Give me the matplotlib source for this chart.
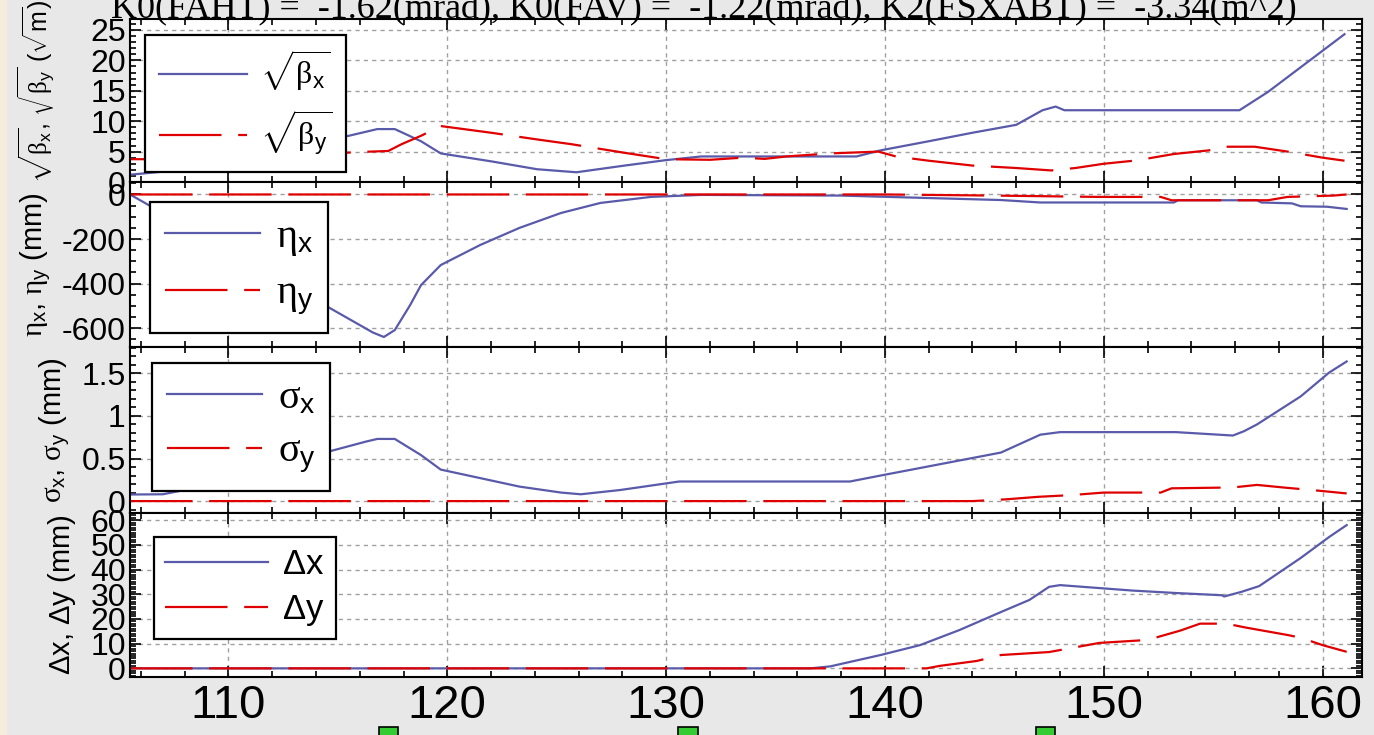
import matplotlib
matplotlib.use('Agg')
import matplotlib.pyplot as plt
from matplotlib.ticker import MultipleLocator, FuncFormatter
from matplotlib.patches import Rectangle
from matplotlib.transforms import blended_transform_factory

plt.rcParams['font.family'] = ['Liberation Sans', 'DejaVu Sans']
plt.rcParams['mathtext.fontset'] = 'custom'
plt.rcParams['mathtext.rm'] = 'Liberation Sans'
plt.rcParams['mathtext.it'] = 'Liberation Serif'
plt.rcParams['mathtext.bf'] = 'Liberation Sans:bold'
plt.rcParams['axes.unicode_minus'] = False
plt.rcParams['lines.scale_dashes'] = False

# ---------------- data ----------------
title = "K0(FAHT) =  -1.62(mrad), K0(FAV) =  -1.22(mrad), K2(FSXABT) =  -3.34(m^2)"

bx_s = [105.5, 107.0, 110.0, 113.0, 115.5, 116.8, 117.6, 118.8, 119.7, 122.0, 124.1, 125.9,
        128.1, 130.0, 131.6, 138.7, 139.8, 142.0, 144.0, 146.0, 147.2, 147.8, 148.2, 156.2,
        157.5, 161.0]
bx_v = [1.2, 1.7, 3.7, 5.9, 7.6, 8.7, 8.7, 6.7, 4.7, 3.4, 2.1, 1.6,
        2.7, 3.6, 4.2, 4.2, 5.2, 6.7, 8.1, 9.4, 11.8, 12.4, 11.8, 11.8,
        14.8, 24.3]

by_s = [105.5, 108.3, 110.5, 114.0, 116.5, 117.3, 117.9, 118.8, 119.7, 122.0, 124.1, 125.7,
        128.1, 130.0, 132.0, 133.5, 134.5, 135.5, 137.5, 139.7, 140.5, 142.0, 144.0, 146.0,
        147.6, 148.7, 150.0, 151.5, 153.2, 154.8, 155.6, 156.9, 158.4, 160.0, 161.0]
by_v = [3.75, 3.75, 4.2, 4.6, 5.0, 5.1, 6.2, 7.6, 9.2, 8.1, 7.0, 6.2,
        4.8, 3.75, 3.65, 4.0, 3.8, 4.2, 4.7, 5.0, 4.2, 3.5, 2.7, 2.3,
        1.9, 2.3, 3.0, 3.55, 4.6, 5.2, 5.8, 5.8, 5.0, 4.0, 3.5]

ex_s = [105.5, 116.6, 117.1, 117.6, 118.3, 118.8, 119.7, 121.5, 123.3, 125.2, 127.0, 129.3,
        131.6, 138.0, 145.3, 147.1, 153.2, 153.4, 157.0, 157.2, 158.6, 159.0, 160.2, 161.1]
ex_v = [0, -620, -640, -609, -497, -407, -317, -227, -150, -83, -38, -11,
        -2, -5, -25, -36, -36, -26, -26, -36, -40, -53, -55, -65]

ey_s = [105.5, 140.0, 145.0, 149.8, 152.6, 153.1, 157.5, 158.4, 160.5, 161.1]
ey_v = [0, 0, -5, -11, -11, -26, -26, -11, -5, 0]

sx_s = [105.5, 107.0, 108.0, 116.3, 116.8, 117.6, 118.8, 119.7, 121.5, 123.3, 125.2, 126.1,
        127.9, 130.6, 138.4, 139.8, 145.3, 147.1, 148.0, 153.3, 155.9, 156.4, 157.0, 159.0,
        160.3, 161.1]
sx_v = [0.077, 0.08, 0.13, 0.70, 0.73, 0.73, 0.54, 0.37, 0.27, 0.17, 0.10, 0.08,
        0.13, 0.23, 0.23, 0.30, 0.57, 0.78, 0.81, 0.81, 0.77, 0.82, 0.90, 1.23,
        1.51, 1.64]

sy_s = [105.5, 144.0, 145.5, 147.0, 148.5, 150.0, 152.6, 153.1, 155.9, 157.0, 158.4, 159.5, 161.1]
sy_v = [0.0, 0.0, 0.02, 0.05, 0.07, 0.10, 0.10, 0.15, 0.16, 0.19, 0.155, 0.13, 0.09]

dx_s = [105.5, 136.6, 137.5, 139.8, 141.6, 143.4, 145.3, 146.6, 147.5, 148.0, 149.8, 151.3,
        153.3, 155.4, 155.5, 156.3, 157.1, 159.0, 160.3, 161.1]
dx_v = [0, 0, 0.8, 5.4, 9.4, 15.5, 22.8, 27.7, 33.0, 33.7, 32.5, 31.5,
        30.5, 29.6, 29.1, 31.0, 33.3, 44.7, 53.2, 58.0]

dy_s = [105.5, 141.9, 142.5, 144.2, 145.3, 147.5, 149.8, 152.0, 153.5, 154.4, 155.6, 156.5,
        158.4, 159.0, 160.0, 161.1]
dy_v = [0, 0, 1.0, 3.0, 5.4, 6.6, 10.3, 11.5, 15.3, 18.1, 18.1, 16.5,
        13.5, 12.4, 9.4, 6.7]

marker_s = [117.3, 131.0, 147.35]

xticks = [110, 120, 130, 140, 150, 160]

panels = [
    dict(xs=bx_s, xv=bx_v, ys=by_s, yv=by_v,
         lx=r'$\sqrt{\beta_{\mathrm{x}}}$', ly=r'$\sqrt{\beta_{\mathrm{y}}}$',
         ylabel=r'$\sqrt{\beta_{\mathrm{x}}}$, $\sqrt{\beta_{\mathrm{y}}}$ ($\sqrt{\mathrm{m}}$)',
         ylim=(0, 26.8), major=5, minor=1),
    dict(xs=ex_s, xv=ex_v, ys=ey_s, yv=ey_v,
         lx=r'$\eta_{\mathrm{x}}$', ly=r'$\eta_{\mathrm{y}}$',
         ylabel=r'$\eta_{\mathrm{x}}$, $\eta_{\mathrm{y}}$ (mm)',
         ylim=(-685, 56), major=200, minor=50),
    dict(xs=sx_s, xv=sx_v, ys=sy_s, yv=sy_v,
         lx=r'$\sigma_{\mathrm{x}}$', ly=r'$\sigma_{\mathrm{y}}$',
         ylabel=r'$\sigma_{\mathrm{x}}$, $\sigma_{\mathrm{y}}$ (mm)',
         ylim=(-0.14, 1.81), major=0.5, minor=0.1),
    dict(xs=dx_s, xv=dx_v, ys=dy_s, yv=dy_v,
         lx=r'$\Delta$x', ly=r'$\Delta$y',
         ylabel=r'$\Delta$x, $\Delta$y (mm)',
         ylim=(-3.5, 62.9), major=10, minor=1),
]

# ---------------- styling / layout ----------------
W, H = 1374, 735
BLUE = '#5a5aaa'
RED = '#e00000'
edges_px = [19, 182, 347, 513, 677]
left_px, right_px = 130, 1362
legend_ul = [(145, 35), (150, 202), (152, 363), (154, 537)]
legend_fs = [23, 29, 29, 25]
legend_ls = [0.45, 0.4, 0.4, 0.33]
legend_bp = [0.45, 0.37, 0.37, 0.33]
legend_hl = [2.75, 2.35, 2.35, 2.95]
ylabel_fs = [18, 21, 21, 21]
ylabel_right_px = [57, 53, 72, 78]
ylabel_ycenter = [0.56, 0.5, 0.5, 0.5]

fig = plt.figure(figsize=(W / 100, H / 100), dpi=100, facecolor='#e8e8e8')
fig.patches.append(Rectangle((0, 0), 7 / W, 1, transform=fig.transFigure,
                             facecolor='#f6ecdc', edgecolor='none', zorder=0))

axes = []
for i, p in enumerate(panels):
    top, bot = edges_px[i], edges_px[i + 1]
    ax = fig.add_axes([left_px / W, 1 - bot / H, (right_px - left_px) / W, (bot - top) / H])
    ax.set_facecolor('white')
    ax.plot(p['xs'], p['xv'], color=BLUE, lw=1.6, label=p['lx'])
    ax.plot(p['ys'], p['yv'], color=RED, lw=1.6, linestyle=(0, (45, 12)), label=p['ly'])
    ax.set_xlim(105.5, 161.8)
    ax.set_ylim(*p['ylim'])
    ax.set_xticks(xticks)
    ax.xaxis.set_minor_locator(MultipleLocator(2))
    ax.yaxis.set_major_locator(MultipleLocator(p['major']))
    ax.yaxis.set_minor_locator(MultipleLocator(p['minor']))
    ax.yaxis.set_major_formatter(FuncFormatter(lambda v, pos: '%g' % v))
    ax.tick_params(which='both', direction='in', top=True, right=True, width=1.2,
                   colors='black')
    ax.tick_params(which='major', length=8)
    ax.tick_params(which='minor', length=4)
    ax.tick_params(axis='y', labelsize=23, pad=3)
    ax.tick_params(axis='x', labelsize=34, pad=5)
    if i < 3:
        ax.tick_params(axis='x', labelbottom=False)
    ax.grid(True, which='major', color='#a0a0a0', linestyle=(0, (3, 3)), linewidth=1.0)
    for sp in ax.spines.values():
        sp.set_linewidth(1.5)
        sp.set_color('black')
    ax.set_ylabel(p['ylabel'], fontsize=ylabel_fs[i])
    ax.yaxis.set_label_coords((ylabel_right_px[i] - left_px) / (right_px - left_px),
                              ylabel_ycenter[i])
    lx, ly = legend_ul[i]
    leg = ax.legend(loc='upper left',
                    bbox_to_anchor=((lx - left_px) / (right_px - left_px),
                                    1 - (ly - top) / (bot - top)),
                    borderaxespad=0, fontsize=legend_fs[i], frameon=True, fancybox=False,
                    framealpha=1, edgecolor='black', handlelength=legend_hl[i],
                    handletextpad=0.4, labelspacing=legend_ls[i], borderpad=legend_bp[i])
    leg.get_frame().set_linewidth(1.6)
    axes.append(ax)

fig.text(0.512, 1 - 18 / H, title, ha='center', va='baseline', fontsize=26,
         family='Liberation Serif')

ax4 = axes[-1]
trans = blended_transform_factory(ax4.transData, fig.transFigure)
sq_w = 0.87
for s in marker_s:
    fig.patches.append(Rectangle((s - sq_w / 2, 1 - 745 / H), sq_w, 18 / H, transform=trans,
                                 facecolor='#33cc33', edgecolor='black', linewidth=1.2))

fig.savefig('out.png', dpi=100, facecolor=fig.get_facecolor())
